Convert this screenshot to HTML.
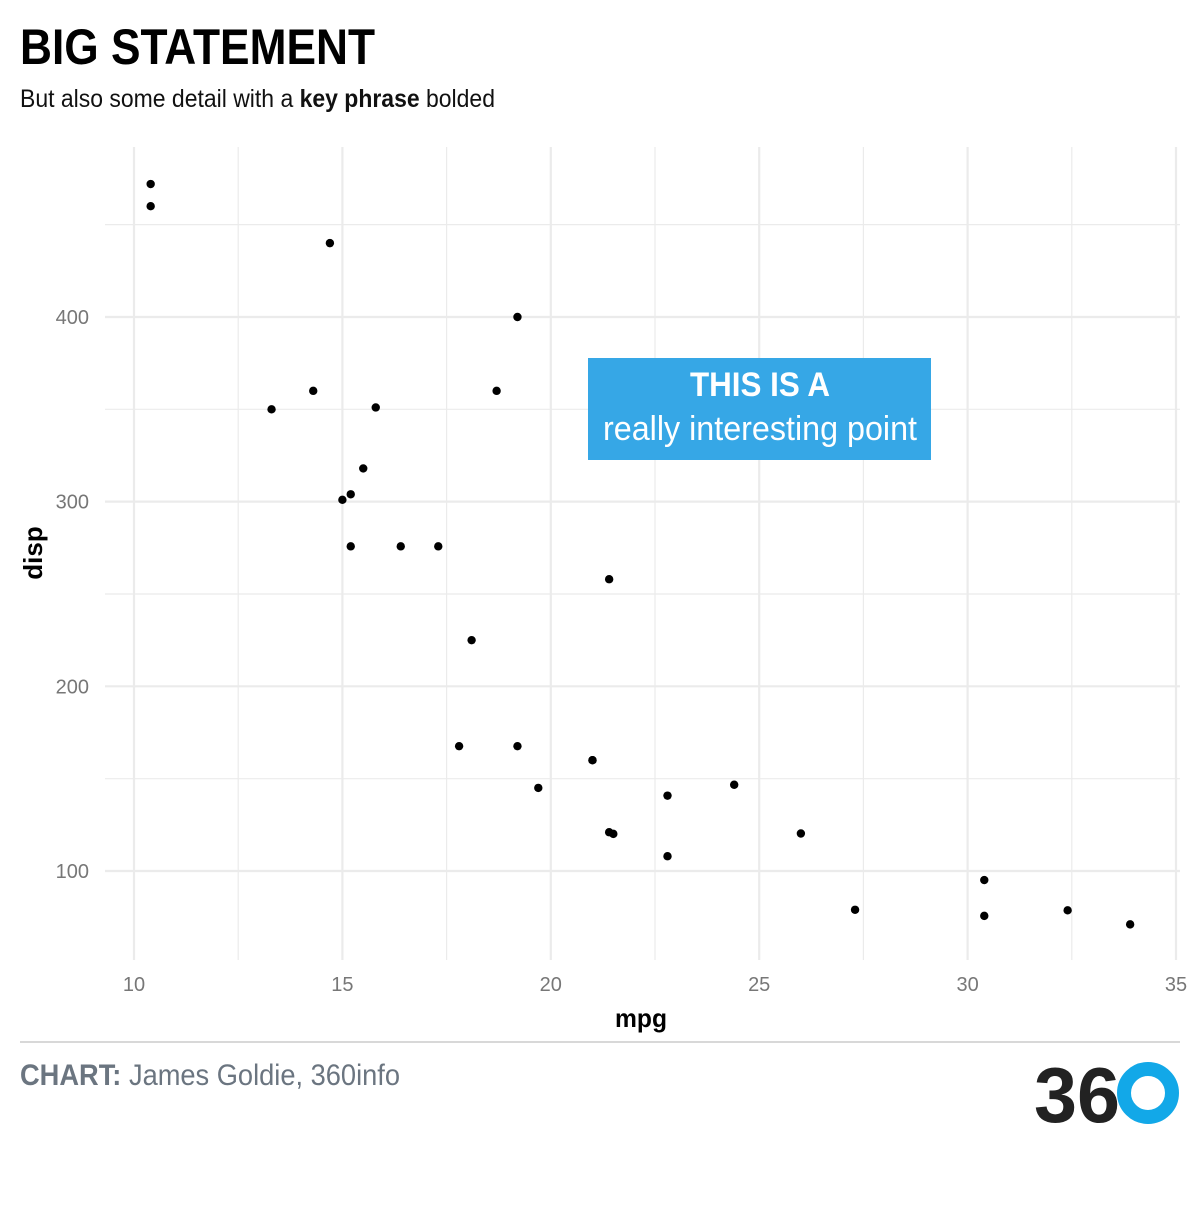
<!DOCTYPE html>
<html><head><meta charset="utf-8"><style>
body{margin:0;width:1200px;height:1200px;background:#fff;overflow:hidden;font-family:"Liberation Sans Narrow","Liberation Sans",sans-serif;}
svg text{font-family:"Liberation Sans Narrow","Liberation Sans",sans-serif;}
</style></head><body>
<svg width="1200" height="1200">
<text x="20" y="64" font-size="50" font-weight="bold" fill="#000" textLength="355" lengthAdjust="spacingAndGlyphs">BIG STATEMENT</text>
<text x="20" y="107" font-size="25" fill="#111" textLength="475" lengthAdjust="spacingAndGlyphs">But also some detail with a <tspan font-weight="bold">key phrase</tspan> bolded</text>
<g id="grid"></g>
<g id="pts"></g>
<g>
<rect x="588" y="358" width="343" height="102" fill="#36a7e6"/>
<text x="690" y="396" font-size="34" font-weight="bold" fill="#fff" textLength="140" lengthAdjust="spacingAndGlyphs">THIS IS A</text>
<text x="603" y="440" font-size="34" fill="#fff" textLength="314" lengthAdjust="spacingAndGlyphs">really interesting point</text>
</g>
<text x="615" y="1027" font-size="26" font-weight="bold" textLength="52" lengthAdjust="spacingAndGlyphs">mpg</text>
<text transform="translate(42,553) rotate(-90)" font-size="26" font-weight="bold" text-anchor="middle">disp</text>
<line x1="20" x2="1180" y1="1042" y2="1042" stroke="#ccc" stroke-width="1.5"/>
<text x="20" y="1085" font-size="30" fill="#6b7580" textLength="380" lengthAdjust="spacingAndGlyphs"><tspan font-weight="bold">CHART:</tspan> James Goldie, 360info</text>
<g>
<text x="1034" y="1122" font-size="78" font-weight="bold" fill="#222" textLength="86" lengthAdjust="spacingAndGlyphs">36</text>
<circle cx="1148" cy="1093" r="24" fill="none" stroke="#12a8e8" stroke-width="14"/>
</g>
</svg>
<script>
const mpg=[21.0,21.0,22.8,21.4,18.7,18.1,14.3,24.4,22.8,19.2,17.8,16.4,17.3,15.2,10.4,10.4,14.7,32.4,30.4,33.9,21.5,15.5,15.2,13.3,19.2,27.3,26.0,30.4,15.8,19.7,15.0,21.4];
const disp=[160,160,108,258,360,225,360,146.7,140.8,167.6,167.6,275.8,275.8,275.8,472,460,440,78.7,75.7,71.1,120.1,318,304,350,400,79,120.3,95.1,351,145,301,121];
const xTicks=[10,15,20,25,30,35];
const yTicks=[100,200,300,400];
const NS="http://www.w3.org/2000/svg";
const X=v=>134+(v-10)*41.68;
const Y=v=>871-(v-100)*1.8467;
const pTop=147,pBot=960,pLeft=105,pRight=1180;
const g=document.getElementById('grid');
function ln(x1,y1,x2,y2,w){const l=document.createElementNS(NS,'line');l.setAttribute('x1',x1);l.setAttribute('y1',y1);l.setAttribute('x2',x2);l.setAttribute('y2',y2);l.setAttribute('stroke','#ebebeb');l.setAttribute('stroke-width',w);


g.appendChild(l);}
function tx(x,y,s,a){const t=document.createElementNS(NS,'text');t.setAttribute('x',x);t.setAttribute('y',y);t.setAttribute('font-size','20');t.setAttribute('fill','#777');t.setAttribute('text-anchor',a);t.textContent=s;


g.appendChild(t);}
for(let i=0;i<xTicks.length;i++){ln(X(xTicks[i]),pTop,X(xTicks[i]),pBot,2.2);tx(X(xTicks[i]),991,xTicks[i],'middle');if(i<xTicks.length-1){const m=(xTicks[i]+xTicks[i+1])/2;ln(X(m),pTop,X(m),pBot,1.2);}}
for(let i=0;i<yTicks.length;i++){ln(pLeft,Y(yTicks[i]),pRight,Y(yTicks[i]),2.2);tx(89,Y(yTicks[i])+7,yTicks[i],'end');}
[150,250,350,450].forEach(v=>ln(pLeft,Y(v),pRight,Y(v),1.2));
const p=document.getElementById('pts');
for(let i=0;i<mpg.length;i++){const c=document.createElementNS(NS,'circle');c.setAttribute('cx',X(mpg[i]));c.setAttribute('cy',Y(disp[i]));c.setAttribute('r','4.2');c.setAttribute('fill','#000');


p.appendChild(c);}
</script>
</body></html>
